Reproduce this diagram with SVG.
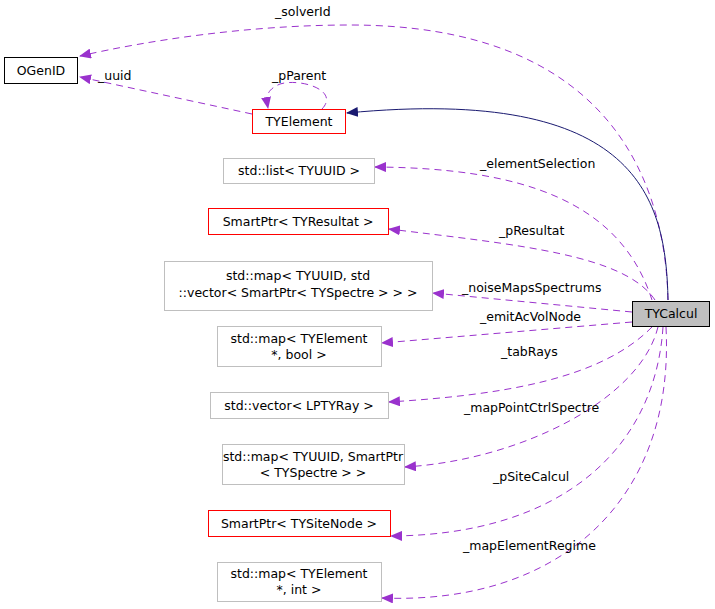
<svg xmlns="http://www.w3.org/2000/svg" width="715" height="609" viewBox="0 0 715 609">
<style>
text{font-family:"DejaVu Sans",sans-serif;font-size:12.5px;fill:#000}
.n rect{fill:#fff;stroke:#bfbfbf}
.r rect{stroke:#ff0000}
.d{fill:none;stroke:#9a32cd;stroke-dasharray:7,5}
</style>
<defs>
<marker id="p" viewBox="0 0 12 10" refX="11" refY="5" markerWidth="12" markerHeight="10" markerUnits="userSpaceOnUse" orient="auto"><path d="M0,0L12,5L0,10z" fill="#9a32cd"/></marker>
<marker id="b" viewBox="0 0 12 10" refX="11" refY="5" markerWidth="12" markerHeight="10" markerUnits="userSpaceOnUse" orient="auto"><path d="M0,0L12,5L0,10z" fill="#191970"/></marker>
</defs>
<g id="edges">
<path class="d" marker-end="url(#p)" d="M668,300 C665,170 600,25 350,25 C250,25 150,40 80,56"/>
<path class="d" marker-end="url(#p)" d="M252,114 L80,77"/>
<path class="d" marker-end="url(#p)" d="M322,109 C340,90 300,78 280,84 C266,90 266,97 268,108"/>
<path fill="none" stroke="#191970" marker-end="url(#b)" d="M668,300 C666,200 640,85 347,113"/>
<path class="d" marker-end="url(#p)" d="M652,300 C620,200 520,168 375,167"/>
<path class="d" marker-end="url(#p)" d="M655,300 C625,255 520,245 389,229"/>
<path class="d" marker-end="url(#p)" d="M632,312 L433,293"/>
<path class="d" marker-end="url(#p)" d="M632,322 L382,343"/>
<path class="d" marker-end="url(#p)" d="M652,327 C600,380 500,395 389,402"/>
<path class="d" marker-end="url(#p)" d="M658,327 C640,400 520,460 405,467"/>
<path class="d" marker-end="url(#p)" d="M663,327 C655,450 560,535 391,536"/>
<path class="d" marker-end="url(#p)" d="M666,327 C675,500 560,605 382,598"/>
<text x="275" y="16">_solverId</text>
<text x="98" y="80">_uuid</text>
<text x="272" y="80">_pParent</text>
<text x="480" y="168">_elementSelection</text>
<text x="499" y="235">_pResultat</text>
<text x="462" y="292">_noiseMapsSpectrums</text>
<text x="480" y="321">_emitAcVolNode</text>
<text x="501" y="356">_tabRays</text>
<text x="464" y="412">_mapPointCtrlSpectre</text>
<text x="493" y="481">_pSiteCalcul</text>
<text x="463" y="550">_mapElementRegime</text>
</g>
<g id="OGenID"><rect x="4.5" y="57.5" width="73" height="26" fill="#fff" stroke="#000"/><text x="41" y="75" text-anchor="middle">OGenID</text></g>
<g id="TYElement" class="n r"><rect x="252.5" y="109.5" width="93" height="24"/><text x="299" y="126" text-anchor="middle">TYElement</text></g>
<g id="list" class="n"><rect x="223.5" y="158.5" width="151" height="25"/><text x="299" y="175" text-anchor="middle">std::list&lt; TYUUID &gt;</text></g>
<g id="resultat" class="n r"><rect x="208.5" y="208.5" width="180" height="26"/><text x="298" y="226" text-anchor="middle">SmartPtr&lt; TYResultat &gt;</text></g>
<g id="noise" class="n"><rect x="164.5" y="261.5" width="268" height="49"/><text x="298" y="280" text-anchor="middle">std::map&lt; TYUUID, std</text><text x="298" y="297" text-anchor="middle">::vector&lt; SmartPtr&lt; TYSpectre &gt; &gt; &gt;</text></g>
<g id="emit" class="n"><rect x="217.5" y="326.5" width="164" height="40"/><text x="299" y="343" text-anchor="middle">std::map&lt; TYElement</text><text x="299" y="359" text-anchor="middle">*, bool &gt;</text></g>
<g id="rays" class="n"><rect x="210.5" y="392.5" width="178" height="26"/><text x="299" y="410" text-anchor="middle">std::vector&lt; LPTYRay &gt;</text></g>
<g id="mapPoint" class="n"><rect x="222.5" y="444.5" width="182" height="40"/><text x="313" y="461" text-anchor="middle">std::map&lt; TYUUID, SmartPtr</text><text x="313" y="477" text-anchor="middle">&lt; TYSpectre &gt; &gt;</text></g>
<g id="site" class="n r"><rect x="208.5" y="510.5" width="182" height="26"/><text x="299" y="528" text-anchor="middle">SmartPtr&lt; TYSiteNode &gt;</text></g>
<g id="regime" class="n"><rect x="217.5" y="562.5" width="164" height="39"/><text x="299" y="578" text-anchor="middle">std::map&lt; TYElement</text><text x="299" y="594" text-anchor="middle">*, int &gt;</text></g>
<g id="TYCalcul"><rect x="632.5" y="301.5" width="77" height="25" fill="#bfbfbf" stroke="#000"/><text x="671" y="318" text-anchor="middle">TYCalcul</text></g>
</svg>
